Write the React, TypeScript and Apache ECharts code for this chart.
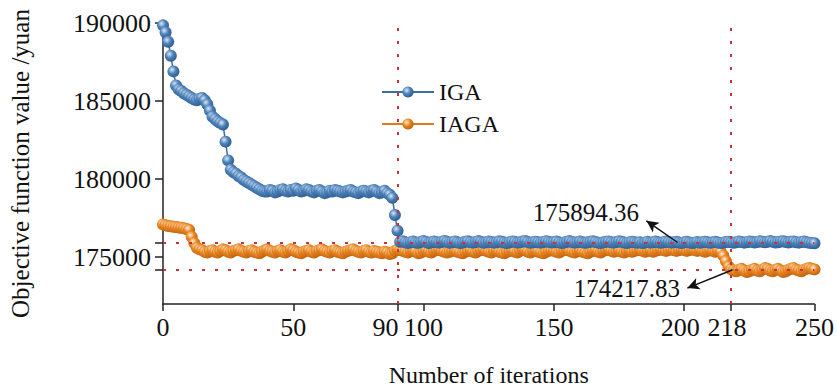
import React, { useEffect, useRef } from "react";
import * as echarts from "echarts";

// Objective function value per iteration (0..250)
const IGA: number[] = [
  189850, 189400, 188800, 187900, 186900, 186000, 185750, 185650, 185500, 185400,
  185300, 185200, 185100, 185050, 185150, 185200, 185050, 184800, 184400, 184000,
  183850, 183700, 183600, 183500, 182400, 181200, 180600, 180450, 180350, 180200,
  180100, 179950, 179850, 179750, 179650, 179550, 179450, 179350, 179250, 179200,
  179200, 179300, 179250, 179150, 179200, 179300, 179350, 179250, 179200, 179300,
  179250, 179400, 179300, 179200, 179250, 179350, 179300, 179200, 179150, 179250,
  179300, 179200, 179100, 179150, 179250, 179200, 179300, 179250, 179200, 179150,
  179200, 179250, 179300, 179200, 179150, 179100, 179200, 179250, 179200, 179150,
  179250, 179300, 179200, 179100, 179150, 179250, 179100, 179000, 178800, 177700,
  176700,
  175980, 176020, 175950, 175900, 175960, 176000, 175940, 175920, 175980, 176030,
  175970, 175910, 175950, 176000, 175960, 175930, 175990, 176040, 175980, 175920,
  175960, 176010, 175950, 175900, 175940, 175990, 176020, 175960, 175930, 175970,
  176030, 175980, 175920, 175950, 176000, 175970, 175930, 175960, 176020, 175990,
  175940, 175910, 175960, 176010, 175980, 175930, 175950, 176000, 176040, 175970,
  175920, 175950, 175990, 175960, 175930, 175970, 176020, 175980, 175940, 175960,
  176000, 175950, 175910, 175940, 175990, 176030, 175970, 175930, 175960, 176000,
  175960, 175920, 175950, 175980, 176020, 175970, 175930, 175900, 175950, 175990,
  176010, 175960, 175930, 175970, 176020, 175980, 175940, 175910, 175950, 175990,
  175960, 175920, 175950, 175900, 175940, 175980, 175930, 175960, 176000, 175950,
  175920, 175960, 176000, 175970, 175930, 175950, 175990, 175940, 175910, 175950,
  175980, 175940, 175900, 175930, 175970, 175920, 175950, 175990, 175960, 175920,
  175950, 175980, 175940, 175900, 175930, 175970, 175990, 175950, 175920, 175960,
  176010, 175970, 175930, 175960, 176000, 175980, 175940, 175970, 176020, 175990,
  175950, 175980, 176030, 175990, 175940, 175960, 176000, 176020, 175970, 175940,
  175980, 176010, 175960, 175930, 175970, 176000, 175950, 175920, 175900, 175894.36,
];

const IAGA: number[] = [
  177100, 177050, 177000, 176980, 176950, 176930, 176900, 176880, 176850, 176800,
  176750, 176300, 175900, 175600, 175500, 175450,
  175350, 175300, 175400, 175450, 175350,
  175300, 175400, 175500, 175450, 175350, 175300, 175400, 175450, 175500, 175400,
  175350, 175300, 175400, 175450, 175350, 175300, 175250, 175350, 175450, 175500,
  175400, 175350, 175300, 175400, 175450, 175350, 175300, 175400, 175500, 175450,
  175350, 175300, 175250, 175350, 175400, 175450, 175350, 175300, 175400, 175450,
  175500, 175400, 175350, 175300, 175400, 175450, 175350, 175300, 175250, 175350,
  175400, 175450, 175500, 175400, 175350, 175300, 175400, 175450, 175350, 175300,
  175400, 175350, 175300, 175250, 175350, 175300, 175200, 175250, 175400, 175500,
  175450, 175400, 175350, 175300, 175400, 175450, 175350, 175250, 175300, 175400,
  175450, 175350, 175300, 175400, 175450, 175500, 175400, 175350, 175300, 175350,
  175400, 175450, 175350, 175300, 175250, 175350, 175400, 175450, 175350, 175300,
  175400, 175450, 175500, 175400, 175350, 175300, 175400, 175450, 175350, 175300,
  175250, 175350, 175400, 175450, 175350, 175300, 175400, 175500, 175450, 175350,
  175300, 175400, 175450, 175350, 175300, 175250, 175350, 175400, 175450, 175400,
  175350, 175300, 175400, 175450, 175500, 175400, 175350, 175300, 175400, 175450,
  175350, 175300, 175250, 175350, 175400, 175450, 175350, 175300, 175400, 175450,
  175500, 175400, 175350, 175400, 175450, 175350, 175300, 175400, 175450, 175350,
  175400, 175450, 175500, 175400, 175350, 175400, 175450, 175350, 175400, 175450,
  175500, 175450, 175400, 175450, 175500, 175450, 175400, 175450, 175500, 175450,
  175400, 175450, 175500, 175450, 175400, 175450, 175400, 175350, 175400, 175450,
  175400, 175350, 175400,
  175350, 175100, 174750, 174400, 174220,
  174150, 174100, 174200, 174250, 174150, 174050, 174100, 174200, 174250, 174150, 174100, 174200,
  174300, 174250, 174150, 174100, 174200, 174250, 174150, 174050, 174100, 174200,
  174250, 174300, 174200, 174150, 174100, 174200, 174250, 174300, 174250, 174217.83,
];

const xTicks = [0, 50, 90, 100, 150, 200, 218, 250];
const yLabels = [175000, 180000, 185000, 190000];
const yTicks = [174217.83, 175000, 175894.36, 180000, 185000, 190000];
const refX = [90, 218];
const refY = [175894.36, 174217.83];
const bestIGA = "175894.36";
const bestIAGA = "174217.83";

const FONT = "'Liberation Serif', 'Times New Roman', serif";

function sphere(light: string, mid: string, dark: string) {
  return {
    type: "radial",
    x: 0.38,
    y: 0.35,
    r: 0.75,
    colorStops: [
      { offset: 0, color: light },
      { offset: 0.45, color: mid },
      { offset: 1, color: dark },
    ],
  };
}

export default function App() {
  const ref = useRef<HTMLDivElement>(null);
  useEffect(() => {
    if (!ref.current) return;
    const chart = echarts.init(ref.current, undefined, { renderer: "svg" });
    const dataIGA = IGA.map((v, i) => [i, v]);
    const dataIAGA = IAGA.map((v, i) => [i, v]);
    const red = "#c8323a";
    const lab = { fontFamily: FONT, fontSize: 26, color: "#111" };
    const ann = { fontFamily: FONT, fontSize: 25, color: "#111" };
    chart.setOption({
      animation: false,
      backgroundColor: "#ffffff",
      textStyle: { fontFamily: FONT },
      grid: { left: 162, right: 22, top: 23, bottom: 80 },
      legend: {
        orient: "vertical",
        left: 376,
        top: 75,
        itemWidth: 52,
        itemHeight: 14,
        itemGap: 8,
        textStyle: { fontFamily: FONT, fontSize: 24, color: "#111" },
        data: ["IGA", "IAGA"],
      },
      xAxis: {
        type: "value",
        min: 0,
        max: 250,
        name: "Number of iterations",
        nameLocation: "middle",
        nameGap: 59,
        nameTextStyle: { fontFamily: FONT, fontSize: 24, color: "#111" },
        axisLine: { lineStyle: { color: "#222", width: 1.5 } },
        axisTick: { customValues: xTicks, length: 7, lineStyle: { color: "#222", width: 1.5 } },
        axisLabel: {
          customValues: xTicks,
          ...lab,
          margin: 10,
          formatter: (v: number) => {
            if (v === 90) return "{l|90}";
            if (v === 200 || v === 218) return "{s|" + v + "}";
            return "{n|" + v + "}";
          },
          rich: {
            n: { ...lab },
            l: { ...lab, padding: [0, 24, 0, 0] },
            s: { ...lab, padding: [0, 8, 0, 0] },
          },
        },
        splitLine: { show: false },
      },
      yAxis: {
        type: "value",
        min: 172000,
        max: 190000,
        name: "Objective function value /yuan",
        nameLocation: "middle",
        nameGap: 130,
        nameTextStyle: { fontFamily: FONT, fontSize: 25, color: "#111" },
        axisLine: { show: true, lineStyle: { color: "#222", width: 1.5 } },
        axisTick: { show: true, customValues: yTicks, length: 8, lineStyle: { color: "#222", width: 1.5 } },
        axisLabel: { customValues: yLabels, ...lab, margin: 12, formatter: (v: number) => String(v) },
        splitLine: { show: false },
      },
      series: [
        {
          name: "IAGA",
          type: "line",
          data: dataIAGA,
          symbol: "circle",
          symbolSize: 12,
          showAllSymbol: true,
          lineStyle: { color: "#e07b1a", width: 1.5 },
          itemStyle: { color: sphere("#fff0d8", "#e8841f", "#b55a0c") },
          z: 2,
        },
        {
          name: "IGA",
          type: "line",
          data: dataIGA,
          symbol: "circle",
          symbolSize: 12,
          showAllSymbol: true,
          lineStyle: { color: "#3b6ea5", width: 1.5 },
          itemStyle: { color: sphere("#dbe8f5", "#4a80ba", "#285585") },
          z: 3,
        },
        {
          name: "ref",
          type: "line",
          data: [],
          z: 10,
          silent: true,
          markLine: {
            silent: true,
            symbol: ["none", "none"],
            label: { show: false },
            lineStyle: { color: red, type: [3, 10], width: 2 },
            data: [
              ...refX.map((x) => ({ xAxis: x })),
              ...refY.map((y) => ({ yAxis: y })),
            ],
          },
        },
        {
          name: "annot",
          type: "line",
          data: [],
          z: 11,
          silent: true,
          markLine: {
            silent: true,
            symbol: ["none", "arrow"],
            symbolSize: [9, 12],
            label: { show: false },
            lineStyle: { color: "#111", type: "solid", width: 1.5 },
            data: [
              [{ coord: [197.5, 175940] }, { coord: [185.5, 177330] }],
              [{ coord: [218.6, 174190] }, { coord: [201.2, 173020] }],
            ],
          },
          markPoint: {
            silent: true,
            symbol: "circle",
            symbolSize: 0,
            label: { show: true, ...ann },
            data: [
              { coord: [162.3, 177850], label: { formatter: bestIGA } },
              { coord: [178, 173000], label: { formatter: bestIAGA } },
            ],
          },
        },
      ],
    });
    return () => chart.dispose();
  }, []);
  return <div ref={ref} style={{ width: 837, height: 392, position: "absolute", left: 0, top: 0 }} />;
}
